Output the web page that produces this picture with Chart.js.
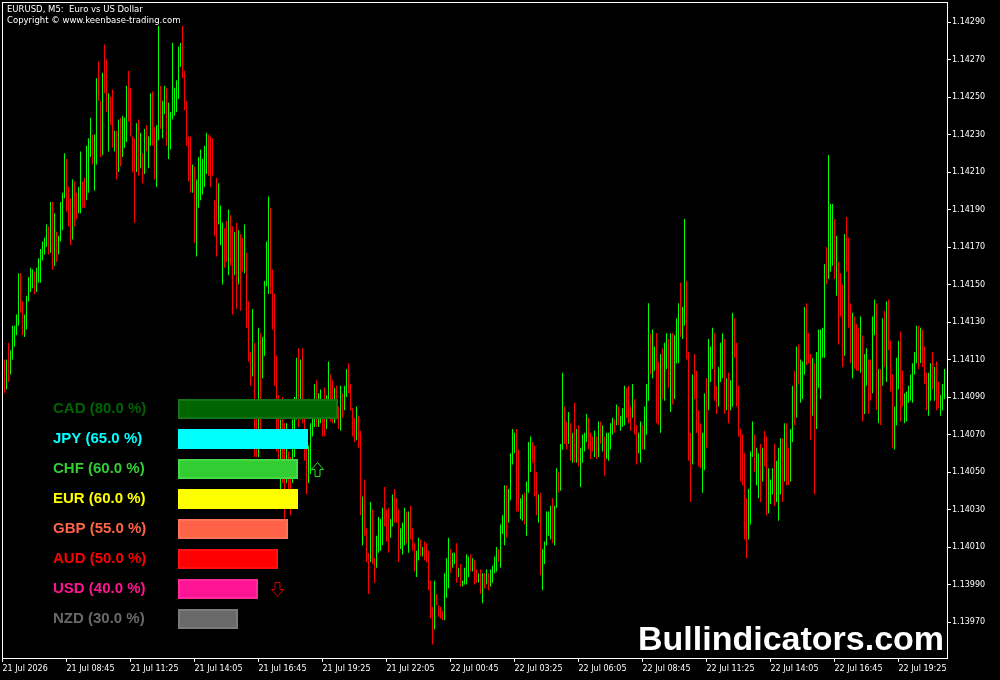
<!DOCTYPE html>
<html>
<head>
<meta charset="utf-8">
<script src="https://cdn.jsdelivr.net/npm/chart.js@4.4.1/dist/chart.umd.min.js"></script>
<style>
html,body{margin:0;padding:0;background:#000;width:1000px;height:680px;overflow:hidden;}
#wrap{position:relative;width:1000px;height:680px;background:#000;}
canvas{position:absolute;left:0;top:0;}
.hdr{position:absolute;left:7px;color:#fff;font:8.5px 'DejaVu Sans',sans-serif;line-height:11px;white-space:pre;}
#wm{position:absolute;left:638px;top:621px;color:#fff;font:bold 34px 'Liberation Sans',Arial,sans-serif;line-height:34px;white-space:pre;}
</style>
</head>
<body>
<div id="wrap">
<canvas id="price" width="1000" height="680"></canvas>
<canvas id="strength" width="1000" height="680"></canvas>
<div class="hdr" style="top:4px">EURUSD, M5:  Euro vs US Dollar</div>
<div class="hdr" style="top:15px">Copyright © www.keenbase-trading.com</div>
<div id="wm">Bullindicators.com</div>
</div>
<script>
// ---------- DATA ----------
// EURUSD M5 bars (first bar = 21 Jul 06:10), one bar every 5 minutes
const highs = [
1.14110,1.14110,1.14119,1.14115,1.14128,1.14128,1.14134,1.14156,1.14156,1.14141,
1.14134,1.14144,1.14154,1.14159,1.14158,1.14157,1.14159,1.14164,1.14169,1.14173,
1.14175,1.14182,1.14181,1.14194,1.14194,1.14188,1.14178,1.14176,1.14194,1.14199,
1.14220,1.14217,1.14202,1.14196,1.14206,1.14205,1.14199,1.14202,1.14221,1.14205,
1.14207,1.14224,1.14228,1.14239,1.14230,1.14230,1.14260,1.14269,1.14248,1.14263,
1.14278,1.14270,1.14252,1.14250,1.14254,1.14232,1.14232,1.14238,1.14239,1.14240,
1.14239,1.14256,1.14264,1.14255,1.14229,1.14228,1.14236,1.14238,1.14231,1.14220,
1.14233,1.14235,1.14229,1.14252,1.14253,1.14234,1.14235,1.14288,1.14256,1.14248,
1.14256,1.14255,1.14247,1.14242,1.14279,1.14255,1.14259,1.14277,1.14279,1.14288,
1.14264,1.14248,1.14229,1.14229,1.14214,1.14213,1.14206,1.14218,1.14222,1.14217,
1.14224,1.14231,1.14230,1.14229,1.14228,1.14195,1.14207,1.14204,1.14192,1.14183,
1.14180,1.14184,1.14190,1.14187,1.14181,1.14178,1.14183,1.14179,1.14177,1.14175,
1.14182,1.14167,1.14141,1.14114,1.14137,1.14119,1.14079,1.14127,1.14124,1.14122,
1.14152,1.14173,1.14197,1.14191,1.14158,1.14145,1.14112,1.14091,1.14078,1.14090,
1.14076,1.14076,1.14061,1.14058,1.14078,1.14090,1.14111,1.14116,1.14110,1.14116,
1.14085,1.14065,1.14064,1.14076,1.14085,1.14097,1.14099,1.14092,1.14094,1.14089,
1.14095,1.14091,1.14109,1.14102,1.14099,1.14095,1.14096,1.14085,1.14096,1.14092,
1.14096,1.14105,1.14108,1.14097,1.14084,1.14079,1.14085,1.14080,1.14072,1.14037,
1.14046,1.14020,1.14007,1.14034,1.14030,1.14004,1.14016,1.14026,1.14025,1.14031,
1.14042,1.14030,1.14031,1.14025,1.14038,1.14041,1.14036,1.14030,1.14020,1.14023,
1.14031,1.14029,1.14029,1.14032,1.14020,1.14012,1.14008,1.14015,1.14014,1.14010,
1.14013,1.14012,1.14008,1.13992,1.13978,1.13992,1.13985,1.13979,1.13978,1.13976,
1.13996,1.14004,1.14015,1.14009,1.14007,1.14007,1.14012,1.13999,1.14001,1.13992,
1.13999,1.14006,1.14005,1.14006,1.14004,1.14003,1.13998,1.13996,1.13998,1.13996,
1.13996,1.13998,1.13996,1.13998,1.14000,1.14005,1.14010,1.14009,1.14022,1.14027,
1.14043,1.14043,1.14041,1.14060,1.14073,1.14071,1.14073,1.14062,1.14036,1.14038,
1.14039,1.14045,1.14066,1.14069,1.14066,1.14064,1.14050,1.14038,1.14039,1.14009,
1.14013,1.14029,1.14029,1.14032,1.14036,1.14032,1.14052,1.14050,1.14065,1.14103,
1.14085,1.14077,1.14082,1.14076,1.14071,1.14087,1.14073,1.14075,1.14063,1.14070,
1.14071,1.14081,1.14079,1.14071,1.14069,1.14072,1.14069,1.14077,1.14077,1.14075,
1.14069,1.14071,1.14071,1.14076,1.14079,1.14078,1.14086,1.14085,1.14080,1.14084,
1.14096,1.14095,1.14096,1.14085,1.14097,1.14089,1.14075,1.14071,1.14077,1.14075,
1.14085,1.14097,1.14140,1.14124,1.14126,1.14117,1.14124,1.14109,1.14113,1.14116,
1.14119,1.14124,1.14121,1.14124,1.14124,1.14123,1.14132,1.14140,1.14151,1.14138,
1.14185,1.14152,1.14114,1.14071,1.14102,1.14113,1.14104,1.14083,1.14076,1.14071,
1.14092,1.14100,1.14121,1.14117,1.14127,1.14124,1.14096,1.14106,1.14119,1.14124,
1.14121,1.14100,1.14103,1.14099,1.14135,1.14132,1.14119,1.14096,1.14073,1.14070,
1.14060,1.14036,1.14041,1.14061,1.14077,1.14070,1.14063,1.14060,1.14065,1.14063,
1.14072,1.14069,1.14052,1.14046,1.14052,1.14065,1.14056,1.14063,1.14068,1.14068,
1.14076,1.14076,1.14063,1.14073,1.14096,1.14104,1.14117,1.14118,1.14110,1.14109,
1.14138,1.14140,1.14124,1.14113,1.14111,1.14108,1.14114,1.14126,1.14126,1.14127,
1.14161,1.14170,1.14219,1.14193,1.14193,1.14185,1.14176,1.14162,1.14156,1.14150,
1.14177,1.14186,1.14175,1.14140,1.14135,1.14133,1.14129,1.14127,1.14133,1.14123,
1.14113,1.14116,1.14110,1.14110,1.14133,1.14142,1.14140,1.14105,1.14105,1.14132,
1.14136,1.14141,1.14142,1.14120,1.14102,1.14085,1.14111,1.14120,1.14125,1.14104,
1.14092,1.14093,1.14096,1.14102,1.14108,1.14114,1.14128,1.14128,1.14127,1.14126,
1.14117,1.14103,1.14103,1.14108,1.14114,1.14106,1.14109,1.14098,1.14091,1.14097,1.14105
];
const lows = [
1.14092,1.14094,1.14098,1.14102,1.14110,1.14117,1.14123,1.14128,1.14135,1.14123,
1.14122,1.14126,1.14141,1.14146,1.14148,1.14145,1.14146,1.14151,1.14151,1.14163,
1.14166,1.14170,1.14166,1.14167,1.14158,1.14160,1.14162,1.14166,1.14173,1.14179,
1.14196,1.14189,1.14181,1.14171,1.14174,1.14181,1.14185,1.14188,1.14188,1.14191,
1.14191,1.14195,1.14199,1.14218,1.14214,1.14200,1.14214,1.14248,1.14218,1.14219,
1.14252,1.14242,1.14221,1.14235,1.14223,1.14221,1.14206,1.14210,1.14213,1.14218,
1.14223,1.14226,1.14237,1.14229,1.14210,1.14183,1.14210,1.14208,1.14212,1.14204,
1.14209,1.14221,1.14212,1.14224,1.14224,1.14206,1.14202,1.14227,1.14233,1.14228,
1.14241,1.14224,1.14217,1.14222,1.14238,1.14240,1.14242,1.14249,1.14266,1.14260,
1.14243,1.14224,1.14205,1.14199,1.14199,1.14172,1.14165,1.14191,1.14195,1.14198,
1.14202,1.14209,1.14208,1.14202,1.14208,1.14176,1.14165,1.14182,1.14171,1.14150,
1.14159,1.14162,1.14155,1.14160,1.14134,1.14155,1.14137,1.14150,1.14136,1.14157,
1.14156,1.14127,1.14109,1.14096,1.14101,1.14058,1.14058,1.14058,1.14072,1.14100,
1.14112,1.14149,1.14145,1.14145,1.14126,1.14096,1.14061,1.14054,1.14041,1.14044,
1.14025,1.14044,1.14032,1.14027,1.14044,1.14058,1.14078,1.14074,1.14078,1.14076,
1.14056,1.14038,1.14044,1.14049,1.14069,1.14074,1.14074,1.14074,1.14076,1.14069,
1.14069,1.14073,1.14084,1.14077,1.14076,1.14076,1.14078,1.14073,1.14072,1.14079,
1.14083,1.14090,1.14092,1.14083,1.14069,1.14066,1.14067,1.14063,1.14027,1.14011,
1.14016,1.14002,1.13985,1.14002,1.14001,1.13991,1.13999,1.14007,1.14008,1.14011,
1.14021,1.14013,1.14007,1.14015,1.14021,1.14023,1.14023,1.14002,1.14009,1.14006,
1.14011,1.14012,1.14007,1.14014,1.14008,1.13997,1.13994,1.14003,1.14005,1.14005,
1.14003,1.14002,1.13987,1.13972,1.13958,1.13966,1.13979,1.13973,1.13972,1.13971,
1.13971,1.13983,1.13988,1.13996,1.13999,1.14001,1.13991,1.13994,1.13989,1.13989,
1.13990,1.13990,1.13994,1.13997,1.13997,1.13990,1.13991,1.13991,1.13985,1.13980,
1.13988,1.13990,1.13987,1.13989,1.13991,1.13996,1.13997,1.14002,1.13999,1.14017,
1.14011,1.14015,1.14023,1.14035,1.14054,1.14060,1.14029,1.14029,1.14025,1.14024,
1.14022,1.14016,1.14039,1.14050,1.14055,1.14037,1.14027,1.14023,1.13995,1.13987,
1.14001,1.14011,1.14016,1.14014,1.14012,1.14011,1.14031,1.14039,1.14040,1.14062,
1.14065,1.14062,1.14065,1.14056,1.14055,1.14055,1.14055,1.14053,1.14042,1.14055,
1.14061,1.14066,1.14062,1.14057,1.14061,1.14058,1.14057,1.14058,1.14065,1.14061,
1.14048,1.14057,1.14056,1.14062,1.14070,1.14071,1.14075,1.14075,1.14072,1.14074,
1.14075,1.14079,1.14076,1.14072,1.14079,1.14070,1.14054,1.14060,1.14055,1.14062,
1.14062,1.14070,1.14088,1.14102,1.14100,1.14104,1.14076,1.14075,1.14071,1.14089,
1.14088,1.14105,1.14095,1.14082,1.14086,1.14089,1.14108,1.14108,1.14122,1.14121,
1.14128,1.14110,1.14056,1.14034,1.14054,1.14089,1.14071,1.14053,1.14052,1.14039,
1.14051,1.14063,1.14083,1.14098,1.14105,1.14088,1.14081,1.14085,1.14098,1.14100,
1.14081,1.14083,1.14076,1.14083,1.14085,1.14111,1.14085,1.14069,1.14045,1.14043,
1.14014,1.14004,1.14014,1.14022,1.14058,1.14050,1.14043,1.14036,1.14034,1.14045,
1.14053,1.14027,1.14028,1.14033,1.14038,1.14032,1.14034,1.14024,1.14038,1.14034,
1.14045,1.14043,1.14043,1.14045,1.14066,1.14075,1.14079,1.14097,1.14087,1.14089,
1.14102,1.14107,1.14108,1.14067,1.14080,1.14038,1.14073,1.14095,1.14089,1.14111,
1.14111,1.14150,1.14153,1.14157,1.14160,1.14153,1.14144,1.14118,1.14133,1.14106,
1.14112,1.14157,1.14127,1.14108,1.14100,1.14105,1.14104,1.14104,1.14103,1.14077,
1.14081,1.14096,1.14081,1.14088,1.14092,1.14123,1.14083,1.14076,1.14075,1.14096,
1.14106,1.14098,1.14115,1.14093,1.14063,1.14062,1.14075,1.14094,1.14077,1.14085,
1.14076,1.14077,1.14087,1.14088,1.14087,1.14102,1.14108,1.14105,1.14108,1.14106,
1.14097,1.14083,1.14080,1.14088,1.14094,1.14088,1.14083,1.14084,1.14080,1.14083,1.14089
];
// 1 = bullish bar (green), 0 = bearish bar (red)
const barUp = [
0,1,0,1,1,1,1,1,0,0, 1,1,1,1,1,0,1,1,1,1, 1,1,0,1,0,1,0,1,1,1, 1,0,0,0,1,0,0,1,1,0,
0,1,1,1,0,1,1,0,0,1, 0,0,1,0,0,1,0,1,0,1, 1,1,0,0,0,0,1,0,1,0, 1,0,1,1,0,0,1,1,0,1,
1,0,1,1,1,1,1,1,1,0, 0,0,0,0,1,0,1,1,1,1, 1,1,0,0,0,0,0,1,1,1, 0,0,1,0,0,1,0,1,0,0,
1,0,0,0,1,0,0,1,0,1, 1,1,1,0,0,0,0,0,1,0, 0,1,0,0,1,1,1,0,1,0, 0,0,1,1,1,1,0,1,1,0,
0,1,1,0,0,1,0,0,1,0, 1,1,0,0,0,0,1,0,0,1, 0,0,0,1,0,0,1,1,1,1, 0,0,0,1,1,0,0,0,1,1,
1,0,1,0,0,0,1,1,0,1, 0,0,0,0,0,1,0,0,0,0, 1,1,1,0,1,1,0,1,0,1, 1,1,1,0,1,0,0,1,0,1,
0,1,0,1,1,1,1,0,1,1, 1,0,1,1,1,1,0,0,1,1, 0,1,1,1,0,0,0,1,0,1, 1,1,1,1,0,1,1,0,1,1,
0,0,1,0,1,0,1,0,1,1, 1,1,0,0,0,1,0,1,0,1, 0,1,1,1,1,0,1,0,1,1, 1,0,0,0,1,0,0,1,1,0,
1,1,1,0,1,1,0,0,1,0, 1,1,0,1,0,1,1,1,0,1, 1,0,0,0,1,0,0,0,0,1, 1,0,1,1,1,0,0,1,1,1,
0,1,0,1,1,0,0,0,0,0, 0,0,1,1,1,0,1,1,0,1, 0,0,1,1,1,0,1,1,1,0, 1,0,0,1,1,0,1,0,1,1,
1,0,0,0,1,0,1,1,1,1, 1,0,1,1,1,0,1,0,0,0, 1,0,0,0,1,0,0,0,1,0, 1,1,0,0,1,1,0,1,0,1,
0,1,0,0,0,1,1,1,0,0, 1,1,1,1,1,1,1,0,1,0, 0,0,1,1,0,1,0,0,1,1,1
];
const firstBarIndex = 1;          // bar numbering on the time axis
const labelStep = 32;             // bars between time labels
const timeLabels = ['21 Jul 2026','21 Jul 08:45','21 Jul 11:25','21 Jul 14:05','21 Jul 16:45','21 Jul 19:25','21 Jul 22:05','22 Jul 00:45','22 Jul 03:25','22 Jul 06:05','22 Jul 08:45','22 Jul 11:25','22 Jul 14:05','22 Jul 16:45','22 Jul 19:25'];
const priceTicks = [1.13970,1.13990,1.14010,1.14030,1.14050,1.14070,1.14090,1.14110,1.14130,1.14150,1.14170,1.14190,1.14210,1.14230,1.14250,1.14270,1.14290];

// Currency strength panel
const currencies = ['CAD','JPY','CHF','EUR','GBP','AUD','USD','NZD'];
const strength = [80.0,65.0,60.0,60.0,55.0,50.0,40.0,30.0];
const signals = ['','','up','','','','down',''];

// ---------- STYLE ----------
const currencyColors = ['#006400','#00ffff','#32cd32','#ffff00','#ff6347','#ff0000','#ff1493','#696969'];
const currencyRims   = ['#137513','#00ffff','#45da45','#ffff00','#ff7459','#ff1010','#ff2a9c','#7a7a7a'];
const FONT = "'Liberation Sans', Arial, sans-serif";
const AXISFONT = "'DejaVu Sans', sans-serif";

const frame = {
  id:'frame',
  beforeDraw(c){ const x=c.ctx; x.save(); x.fillStyle='#000'; x.fillRect(0,0,c.width,c.height); x.restore(); },
  afterDraw(c){ const a=c.chartArea, x=c.ctx; x.save(); x.strokeStyle='#fff'; x.lineWidth=1;
    x.strokeRect(a.left+0.5, a.top+0.5, a.right-a.left, a.bottom-a.top); x.restore(); }
};

new Chart(document.getElementById('price'), {
  type:'bar',
  data:{ datasets:[{
    data: highs.map((h,k)=>({x:k+firstBarIndex, y:[lows[k], h]})),
    backgroundColor: barUp.map(u=>u?'#00ff00':'#ff0000'),
    borderWidth:0, barThickness:1, inflateAmount:0, grouped:false
  }]},
  options:{
    responsive:false, animation:false, events:[],
    layout:{padding:{left:2, top:2, right:0, bottom:0}},
    plugins:{legend:{display:false}, tooltip:{enabled:false}},
    scales:{
      x:{ type:'linear', position:'bottom', offset:false, min:-0.25, max:472.25,
        afterBuildTicks:s=>{ s.ticks = timeLabels.map((t,k)=>({value:k*labelStep})); },
        afterFit:s=>{ s.height = 22; s.paddingLeft = 0; s.paddingRight = 0; },
        ticks:{ autoSkip:false, maxRotation:0, minRotation:0, align:'start', color:'#fff', padding:2,
          font:{family:AXISFONT, size:8}, callback:(v,i)=>timeLabels[i] },
        grid:{ offset:false, drawOnChartArea:false, drawTicks:true, tickLength:4, color:'#fff' },
        border:{display:false}
      },
      y:{ position:'right', min:1.139508, max:1.1430067,
        afterBuildTicks:s=>{ s.ticks = priceTicks.map(v=>({value:v})); },
        afterFit:s=>{ s.width = 53; s.paddingTop = 0; s.paddingBottom = 0; },
        ticks:{ color:'#fff', padding:1, font:{family:AXISFONT, size:8}, callback:v=>Number(v).toFixed(5) },
        grid:{ drawOnChartArea:false, drawTicks:true, tickLength:4, color:'#fff' },
        border:{display:false}
      }
    }
  },
  plugins:[frame]
});

// outlined block arrows for the strength signals
const arrows = {
  id:'arrows',
  afterDatasetsDraw(c){
    const x=c.ctx, xs=c.scales.x, ys=c.scales.y;
    signals.forEach((s,i)=>{
      if(!s) return;
      const cx = Math.round(xs.getPixelForValue(strength[i]) + 19) + 0.5;
      const cy = Math.round(ys.getPixelForValue(i)) + 0.5;
      const d = s==='up' ? -1 : 1;          // direction of the tip
      const tip = cy + d*7, base = cy - d*7, neck = cy;
      x.save();
      x.strokeStyle = s==='up' ? '#22dd22' : '#cc0000';
      x.lineWidth = 1;
      x.beginPath();
      x.moveTo(cx, tip);
      x.lineTo(cx+6, neck);
      x.lineTo(cx+2.5, neck);
      x.lineTo(cx+2.5, base);
      x.lineTo(cx-2.5, base);
      x.lineTo(cx-2.5, neck);
      x.lineTo(cx-6, neck);
      x.closePath();
      x.stroke();
      x.restore();
    });
  }
};

new Chart(document.getElementById('strength'), {
  type:'bar',
  data:{
    labels: currencies.map((c,i)=>c+' ('+strength[i].toFixed(1)+' %)'),
    datasets:[{ data: strength, backgroundColor: currencyColors, borderColor: currencyRims,
      borderWidth:2, borderSkipped:false, barThickness:20, inflateAmount:0 }]
  },
  options:{
    indexAxis:'y', responsive:false, animation:false, events:[],
    layout:{padding:{left:53, top:394, right:622, bottom:46}},
    plugins:{legend:{display:false}, tooltip:{enabled:false}},
    scales:{
      x:{ display:false, min:0, max:100 },
      y:{ afterFit:s=>{ s.width = 125; },
        grid:{display:false}, border:{display:false},
        ticks:{ crossAlign:'far', padding:0, color:ctx=>currencyColors[ctx.index],
          font:{family:FONT, size:15, weight:'bold'} }
      }
    }
  },
  plugins:[arrows]
});
</script>
</body>
</html>
